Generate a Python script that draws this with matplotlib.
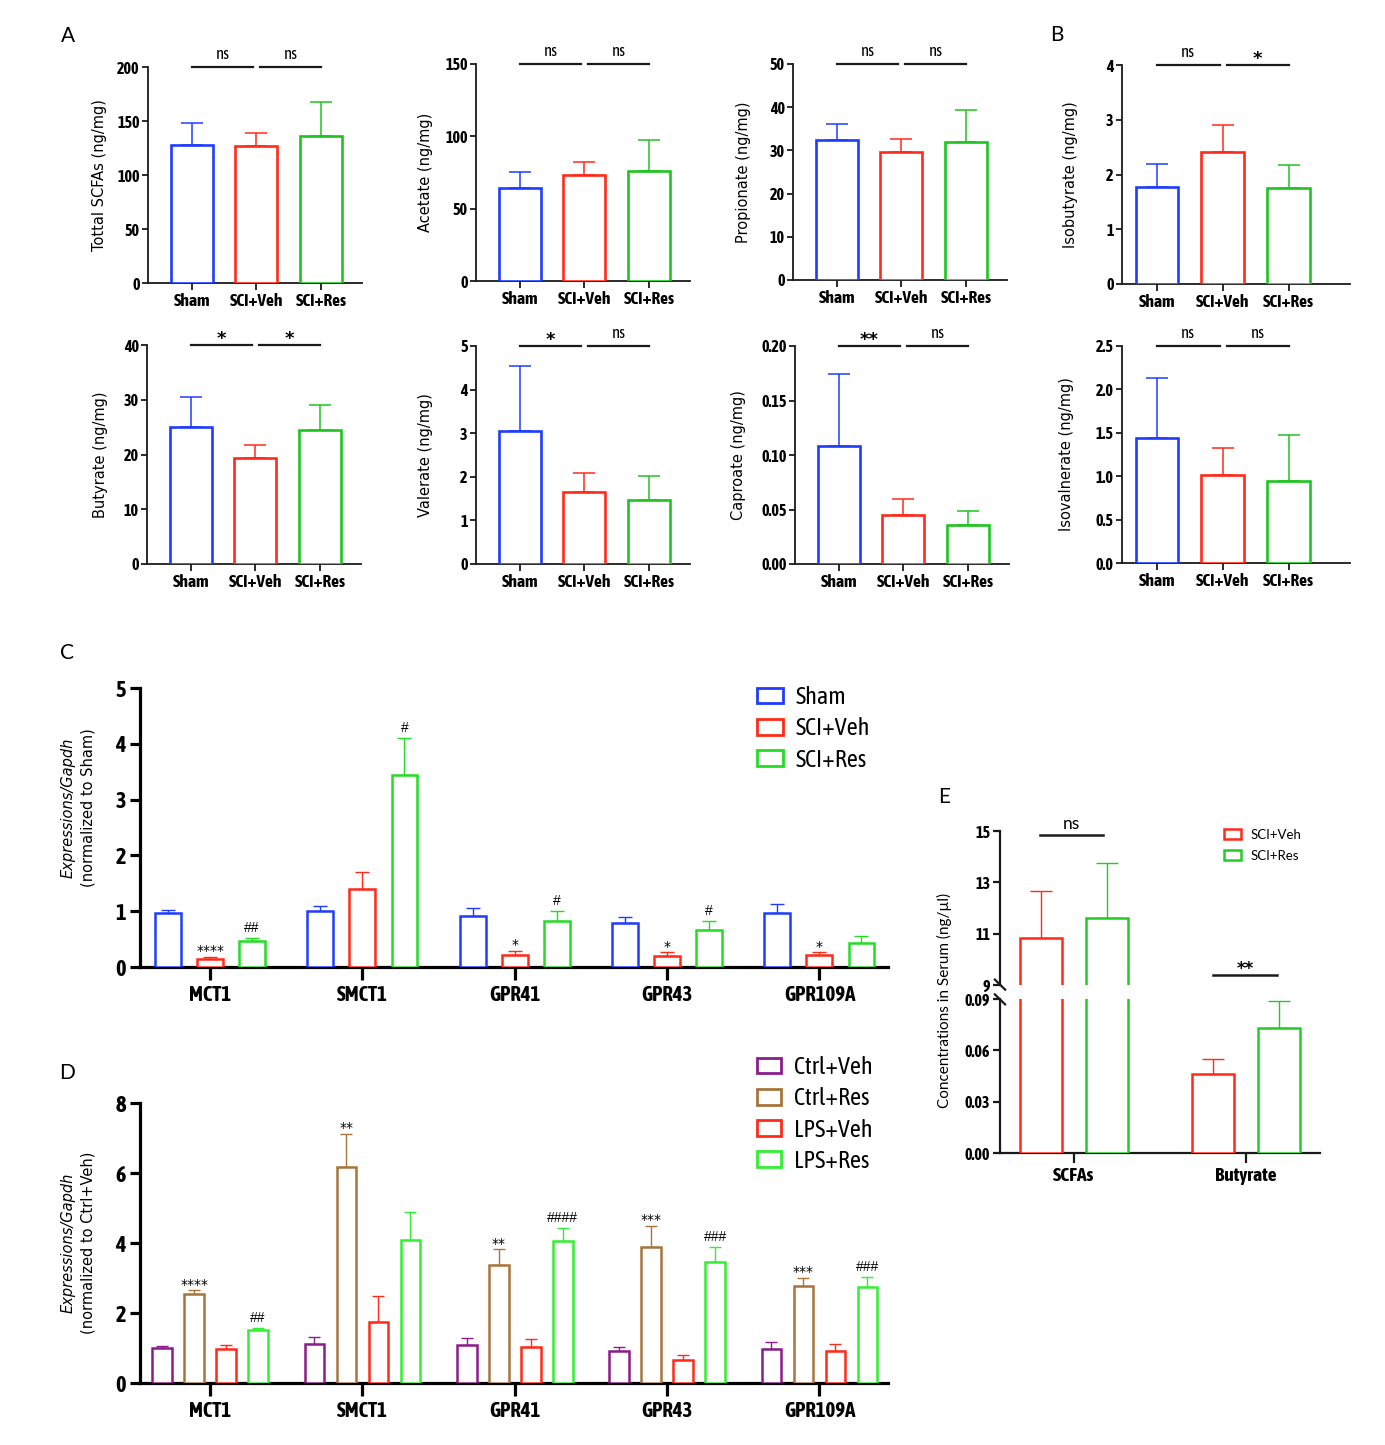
import matplotlib
matplotlib.use("Agg")
import matplotlib.pyplot as plt
from matplotlib.patches import Patch

W, H = 1385, 1445
NARROW = ["Asap Condensed", "DejaVu Sans"]
ROUND = ["DejaVu Sans"]
SOFT = ["Lato", "DejaVu Sans"]
ARIAL = ["Liberation Sans", "DejaVu Sans"]

# ---- panel A / B : faecal SCFAs ----
groups_ab = ["Sham", "SCI+Veh", "SCI+Res"]
colors_ab = ["#1f3cff", "#ff2a1a", "#1fc41f"]

total_mean = [128, 127, 136.5]
total_sem = [20.5, 12, 31.5]
acetate_mean = [64, 73, 76]
acetate_sem = [11.5, 9, 21.5]
propionate_mean = [32.3, 29.6, 32.0]
propionate_sem = [3.8, 3.0, 7.4]
isobutyrate_mean = [1.77, 2.41, 1.76]
isobutyrate_sem = [0.43, 0.49, 0.42]
butyrate_mean = [25.1, 19.4, 24.5]
butyrate_sem = [5.4, 2.3, 4.5]
valerate_mean = [3.05, 1.64, 1.47]
valerate_sem = [1.48, 0.44, 0.54]
caproate_mean = [0.108, 0.045, 0.036]
caproate_sem = [0.066, 0.015, 0.013]
isoval_mean = [1.44, 1.01, 0.95]
isoval_sem = [0.69, 0.32, 0.53]

# ---- panel C / D : transporter / receptor expression ----
genes = ["MCT1", "SMCT1", "GPR41", "GPR43", "GPR109A"]

c_labels = ["Sham", "SCI+Veh", "SCI+Res"]
c_colors = ["#1f3cff", "#ff2a1a", "#22dd22"]
c_sham = [0.97, 1.01, 0.92, 0.79, 0.97]
c_sham_sem = [0.06, 0.09, 0.13, 0.11, 0.16]
c_veh = [0.14, 1.40, 0.22, 0.19, 0.21]
c_veh_sem = [0.04, 0.31, 0.07, 0.07, 0.05]
c_res = [0.47, 3.44, 0.82, 0.67, 0.43]
c_res_sem = [0.05, 0.66, 0.19, 0.15, 0.13]
c_marks = [["", "", "", "", ""],
           ["****", "", "*", "*", "*"],
           ["##", "#", "#", "#", ""]]

d_labels = ["Ctrl+Veh", "Ctrl+Res", "LPS+Veh", "LPS+Res"]
d_colors = ["#8b1c8b", "#a8743a", "#ff2a1a", "#33ee33"]
d_ctrl_veh = [1.00, 1.12, 1.10, 0.92, 0.96]
d_ctrl_veh_sem = [0.07, 0.20, 0.20, 0.10, 0.21]
d_ctrl_res = [2.53, 6.17, 3.37, 3.90, 2.77]
d_ctrl_res_sem = [0.12, 0.95, 0.45, 0.60, 0.24]
d_lps_veh = [0.97, 1.73, 1.04, 0.67, 0.91]
d_lps_veh_sem = [0.11, 0.75, 0.21, 0.13, 0.21]
d_lps_res = [1.52, 4.08, 4.07, 3.46, 2.73]
d_lps_res_sem = [0.05, 0.82, 0.37, 0.42, 0.30]
d_marks = [["", "", "", "", ""],
           ["****", "**", "**", "***", "***"],
           ["", "", "", "", ""],
           ["##", "", "####", "###", "###"]]

# ---- panel E : serum ----
e_groups = ["SCFAs", "Butyrate"]
e_labels = ["SCI+Veh", "SCI+Res"]
e_colors = ["#ff2a1a", "#22cc22"]
e_veh = [10.85, 0.046]
e_veh_sem = [1.83, 0.009]
e_res = [11.6, 0.073]
e_res_sem = [2.15, 0.016]


def rect(left, top, right, bottom):
    return [left / W, 1 - bottom / H, (right - left) / W, (bottom - top) / H]


def style_spines(ax, lw):
    for s in ("top", "right"):
        ax.spines[s].set_visible(False)
    for s in ("left", "bottom"):
        ax.spines[s].set_linewidth(lw)
        ax.spines[s].set_color("#1a1a1a")


def bold_ticks(ax, xsize, ysize):
    for t in ax.get_xticklabels():
        t.set_fontfamily(NARROW)
        t.set_fontweight("bold")
        t.set_fontsize(xsize)
    for t in ax.get_yticklabels():
        t.set_fontfamily(NARROW)
        t.set_fontweight("bold")
        t.set_fontsize(ysize)


def small_panel(fig, box, xlim, mean, sem, ylim, step, fmt, ylabel, sig, label_dx):
    ax = fig.add_axes(rect(*box))
    x = list(range(3))
    ax.bar(x, mean, width=0.65, facecolor="white", edgecolor=colors_ab,
           linewidth=1.9, zorder=3)
    for xi, m, s, c in zip(x, mean, sem, colors_ab):
        ax.errorbar(xi, m, yerr=[[0], [s]], color=c, capsize=8,
                    elinewidth=1.1, capthick=1.1, zorder=2)
    ax.set_xlim(*xlim)
    ax.set_ylim(*ylim)
    ticks = []
    v = ylim[0]
    while v <= ylim[1] + 1e-9:
        ticks.append(v)
        v += step
    ax.set_yticks(ticks, [fmt.format(t) for t in ticks])
    ax.set_xticks(x, groups_ab)
    style_spines(ax, 1.3)
    ax.tick_params(axis="both", width=1.3, color="#1a1a1a")
    ax.tick_params(axis="x", length=5, pad=2)
    ax.tick_params(axis="y", length=4, pad=2)
    bold_ticks(ax, 12.5, 11.5)
    ax.set_ylabel(ylabel, fontfamily=ROUND, fontsize=10.5)
    width_px = box[2] - box[0]
    ax.yaxis.set_label_coords(label_dx / width_px, 0.5)
    top = ylim[1]
    for (x0, x1), lab in zip([(0, 0.95), (1.06, 2)], sig):
        ax.plot([x0, x1], [top, top], color="#1a1a1a", lw=1.6, clip_on=False)
        if lab == "ns":
            ax.annotate(lab, ((x0 + x1) / 2, top), xytext=(0, 3),
                        textcoords="offset points", ha="center", va="bottom",
                        fontfamily=NARROW, fontsize=12)
        else:
            ax.annotate(lab, ((x0 + x1) / 2, top), xytext=(0, -2),
                        textcoords="offset points", ha="center", va="bottom",
                        fontfamily=ROUND, fontweight="bold", fontsize=13)
    return ax


def expression_panel(fig, box, ymax, step, series, sems, colors, offsets, width,
                     marks, capsize):
    ax = fig.add_axes(rect(*box))
    gx = list(range(len(genes)))
    for vals, errs, c, off, mk in zip(series, sems, colors, offsets, marks):
        xs = [g + off for g in gx]
        ax.bar(xs, vals, width=width, facecolor="white", edgecolor=c,
               linewidth=1.8, zorder=3)
        ax.errorbar(xs, vals, yerr=[[0] * len(vals), errs], fmt="none", ecolor=c,
                    capsize=capsize, elinewidth=1.0, capthick=1.0, zorder=2)
        for xi, v, e, m in zip(xs, vals, errs, mk):
            if not m:
                continue
            if m.startswith("*"):
                ax.annotate(m, (xi, v + e), xytext=(0, -1), textcoords="offset points",
                            ha="center", va="bottom", fontfamily=ROUND, fontsize=10)
            else:
                ax.annotate(m, (xi, v + e), xytext=(0, 2), textcoords="offset points",
                            ha="center", va="bottom", fontfamily=ARIAL, fontsize=10)
    ax.set_xlim(-0.46, 4.45)
    ax.set_ylim(0, ymax)
    ticks = list(range(0, ymax + 1, step))
    ax.set_yticks(ticks, [str(t) for t in ticks])
    ax.set_xticks(gx, genes)
    style_spines(ax, 2.3)
    ax.spines["left"].set_color("black")
    ax.spines["bottom"].set_color("black")
    ax.tick_params(axis="both", width=2.3, color="black")
    ax.tick_params(axis="x", length=9, pad=4)
    ax.tick_params(axis="y", length=7, pad=3)
    bold_ticks(ax, 15, 16)
    return ax


def box_legend(fig, labels, colors, anchor, fontsize, family, hl, hh, ls, pad, lw=2.0):
    handles = [Patch(facecolor="white", edgecolor=c, linewidth=lw) for c in colors]
    fig.legend(handles, labels, loc="upper left",
               bbox_to_anchor=(anchor[0] / W, 1 - anchor[1] / H),
               bbox_transform=fig.transFigure, frameon=False, borderpad=0,
               borderaxespad=0, handlelength=hl, handleheight=hh,
               labelspacing=ls, handletextpad=pad,
               prop={"family": family, "size": fontsize})


fig = plt.figure(figsize=(W / 100, H / 100), dpi=100)

xl3 = (-0.68, 2.64)
xlb = (-0.53, 2.93)
small_panel(fig, (148, 67, 362, 283), xl3, total_mean, total_sem, (0, 200), 50,
            "{:.0f}", "Tottal SCFAs (ng/mg)", ["ns", "ns"], -41)
small_panel(fig, (476, 64, 690, 281), xl3, acetate_mean, acetate_sem, (0, 150), 50,
            "{:.0f}", "Acetate (ng/mg)", ["ns", "ns"], -43)
small_panel(fig, (793, 64, 1007, 280), xl3, propionate_mean, propionate_sem, (0, 50), 10,
            "{:.0f}", "Propionate (ng/mg)", ["ns", "ns"], -42)
small_panel(fig, (1122, 65, 1350, 284), xlb, isobutyrate_mean, isobutyrate_sem, (0, 4), 1,
            "{:.0f}", "Isobutyrate (ng/mg)", ["ns", "*"], -44)
small_panel(fig, (147, 345, 361, 564), xl3, butyrate_mean, butyrate_sem, (0, 40), 10,
            "{:.0f}", "Butyrate (ng/mg)", ["*", "*"], -39)
small_panel(fig, (476, 346, 690, 564), xl3, valerate_mean, valerate_sem, (0, 5), 1,
            "{:.0f}", "Valerate (ng/mg)", ["*", "ns"], -43)
small_panel(fig, (795, 346, 1009, 564), xl3, caproate_mean, caproate_sem, (0, 0.2), 0.05,
            "{:.2f}", "Caproate (ng/mg)", ["**", "ns"], -49)
small_panel(fig, (1122, 346, 1350, 563), xlb, isoval_mean, isoval_sem, (0, 2.5), 0.5,
            "{:.1f}", "Isovalnerate (ng/mg)", ["ns", "ns"], -48)

# C
expression_panel(fig, (140, 688, 888, 967), 5, 1,
                 [c_sham, c_veh, c_res], [c_sham_sem, c_veh_sem, c_res_sem],
                 c_colors, [-0.276, 0, 0.276], 0.17, c_marks, 5)
box_legend(fig, c_labels, c_colors, (757, 686), 17.5, NARROW, 1.07, 0.62, 0.34, 0.53)
fig.text(68 / W, 1 - 808 / H, "Expressions/Gapdh", rotation=90, ha="center", va="center",
         fontfamily=ROUND, fontstyle="italic", fontsize=10.5)
fig.text(88 / W, 1 - 808 / H, "(normalized to Sham)", rotation=90, ha="center",
         va="center", fontfamily=ROUND, fontsize=10.5)

# D
expression_panel(fig, (140, 1103, 888, 1383), 8, 2,
                 [d_ctrl_veh, d_ctrl_res, d_lps_veh, d_lps_res],
                 [d_ctrl_veh_sem, d_ctrl_res_sem, d_lps_veh_sem, d_lps_res_sem],
                 d_colors, [-0.315, -0.105, 0.105, 0.315], 0.13, d_marks, 4.3)
box_legend(fig, d_labels, d_colors, (757, 1056), 17.5, NARROW, 1.0, 0.62, 0.34, 0.53)
fig.text(68 / W, 1 - 1243 / H, "Expressions/Gapdh", rotation=90, ha="center",
         va="center", fontfamily=ROUND, fontstyle="italic", fontsize=10.5)
fig.text(88 / W, 1 - 1243 / H, "(normalized to Ctrl+Veh)", rotation=90, ha="center",
         va="center", fontfamily=ROUND, fontsize=10.5)

# E (broken y axis)
ax_hi = fig.add_axes(rect(1000, 831, 1320, 985))
ax_lo = fig.add_axes(rect(1000, 999, 1320, 1153))
ex = list(range(2))
for ax in (ax_hi, ax_lo):
    for vals, errs, c, off in zip([e_veh, e_res], [e_veh_sem, e_res_sem], e_colors,
                                  [-0.19, 0.19]):
        xs = [g + off for g in ex]
        ax.bar(xs, vals, width=0.244, facecolor="white", edgecolor=c, linewidth=1.8,
               zorder=3)
        ax.errorbar(xs, vals, yerr=[[0, 0], errs], fmt="none", ecolor=c, capsize=8,
                    elinewidth=1.0, capthick=1.0, zorder=2)
    ax.set_xlim(-0.43, 1.43)
    style_spines(ax, 1.6)
    ax.tick_params(axis="both", width=1.6, color="#1a1a1a")
ax_hi.set_ylim(9, 15)
ax_hi.set_yticks([9, 11, 13, 15])
ax_hi.spines["bottom"].set_visible(False)
ax_hi.set_xticks([])
ax_lo.set_ylim(0, 0.09)
ax_lo.set_yticks([0, 0.03, 0.06, 0.09], ["0.00", "0.03", "0.06", "0.09"])
ax_lo.set_xticks(ex, e_groups)
ax_lo.tick_params(axis="x", length=7, pad=3)
for ax in (ax_hi, ax_lo):
    ax.tick_params(axis="y", length=5, pad=2)
    bold_ticks(ax, 14, 11.5)
# break marks on the left spine
ax_hi.plot([-0.016, 0.016], [0.035, -0.03], transform=ax_hi.transAxes, color="#1a1a1a",
           lw=1.6, clip_on=False)
ax_lo.plot([-0.016, 0.016], [1.03, 0.965], transform=ax_lo.transAxes, color="#1a1a1a",
           lw=1.6, clip_on=False)
# significance
ax_hi.plot([-0.2, 0.17], [14.85, 14.85], color="#1a1a1a", lw=1.8, clip_on=False)
ax_hi.annotate("ns", (-0.015, 14.85), xytext=(0, 2), textcoords="offset points",
               ha="center", va="bottom", fontfamily=SOFT, fontsize=12.5)
ax_hi.plot([0.81, 1.18], [9.4, 9.4], color="#1a1a1a", lw=1.8, clip_on=False)
ax_hi.annotate("**", (0.995, 9.4), xytext=(0, -2), textcoords="offset points",
               ha="center", va="bottom", fontfamily=ROUND, fontweight="bold", fontsize=12)
box_legend(fig, e_labels, e_colors, (1224, 829), 9.5, SOFT, 1.3, 0.8, 0.65, 0.7, lw=1.8)
fig.text(944 / W, 1 - 1000 / H, "Concentrations in Serum (ng/\u00b5l)", rotation=90,
         ha="center", va="center", fontfamily=SOFT, fontsize=11)

# panel letters
for letter, (px, py) in {"A": (68, 36), "B": (1057, 35), "C": (67, 653),
                         "D": (67, 1073), "E": (944, 797)}.items():
    fig.text(px / W, 1 - py / H, letter, ha="center", va="center",
             fontfamily=SOFT, fontsize=15)

fig.savefig("out.png", dpi=100, facecolor="white")
